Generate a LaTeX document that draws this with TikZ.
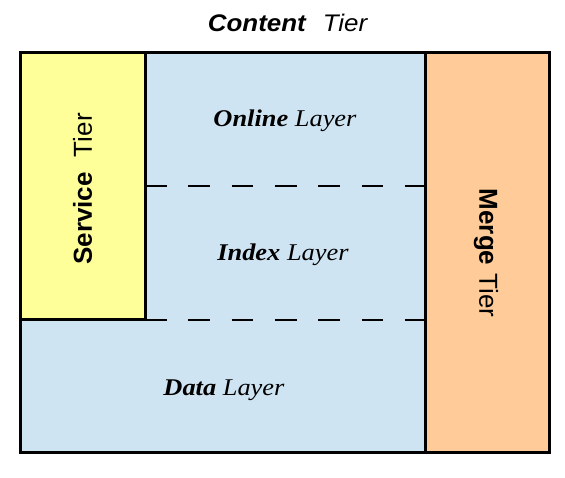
\documentclass[tikz,border=0pt]{standalone}
\usepackage{fontspec}
\setmainfont{Liberation Serif}
\setsansfont{Liberation Sans}
\definecolor{layerblue}{RGB}{207,228,242}
\definecolor{serviceyellow}{RGB}{255,255,153}
\definecolor{mergeorange}{RGB}{255,204,153}
\begin{document}
\begin{tikzpicture}[x=1pt,y=-1pt,
  region/.style={draw=black, line width=3pt, anchor=north west, inner sep=0pt, outer sep=0pt},
  sepline/.style={line width=2pt, dash pattern=on 21.7pt off 21.6pt},
  sanslabel/.style={font=\sffamily\fontsize{24}{28}\selectfont, inner sep=0pt},
  tierlabel/.style={font=\sffamily\fontsize{26}{30}\selectfont, inner sep=0pt},
  seriflabel/.style={font=\rmfamily\fontsize{24}{28}\selectfont, inner sep=0pt, anchor=base}]
\useasboundingbox (0,0) rectangle (565,477);
% content area
\node[region, draw=none, fill=layerblue, minimum width=529pt, minimum height=400pt] (content) at (20.5,52.5) {};
\node[region, fill=serviceyellow, minimum width=124.5pt, minimum height=267pt] (service) at (20.5,52.5) {};
\node[region, fill=mergeorange, minimum width=124pt, minimum height=400pt] (merge) at (425.5,52.5) {};
\coordinate (d1a) at (145,186); \coordinate (d1b) at (424,186);
\coordinate (d2a) at (145,319.5); \coordinate (d2b) at (424,319.5);
\draw[sepline] (d1a) -- (d1b);
\draw[sepline] (d2a) -- (d2b);
\node[region, fill=none, line width=3.5pt, minimum width=529pt, minimum height=400pt] (outer) at (20.5,52.5) {};
% labels
\node[sanslabel, anchor=base] (title) at (288,31) {\scalebox{1.08}[1]{\textbf{\textit{Content}}\hspace{15pt}\textit{Tier}}};
\node[tierlabel, rotate=90] (servicelbl) at (82.5,189) {\textbf{Service}\hspace{15pt}Tier};
\node[tierlabel, rotate=-90] (mergelbl) at (486,253) {\textbf{Merge}\hspace{8pt}Tier};
\node[seriflabel] (online) at (285,126) {\scalebox{1.1}[1]{\textbf{\textit{Online}} \textit{Layer}}};
\node[seriflabel] (index) at (283,260) {\scalebox{1.1}[1]{\textbf{\textit{Index}} \textit{Layer}}};
\node[seriflabel] (data) at (224,395) {\scalebox{1.1}[1]{\textbf{\textit{Data}} \textit{Layer}}};
\end{tikzpicture}
\end{document}
